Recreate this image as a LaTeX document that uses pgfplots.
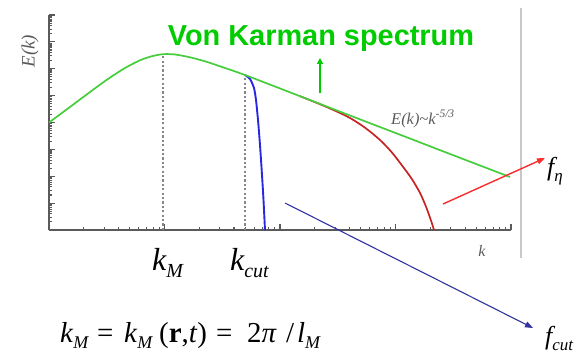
\documentclass[border=0pt]{standalone}
\usepackage{pgfplots}
\pgfplotsset{compat=1.18}
\usepackage{fontspec}
\setmainfont{Liberation Serif}
\newfontfamily\headsans{Liberation Sans}
\usetikzlibrary{arrows.meta}

\definecolor{titlegreen}{RGB}{0,204,0}
\definecolor{vkgreen}{RGB}{70,205,60}
\definecolor{cutblue}{RGB}{40,40,225}
\definecolor{dissred}{RGB}{200,35,35}
\definecolor{arrowred}{RGB}{250,45,45}
\definecolor{arrownavy}{RGB}{50,50,160}
\definecolor{axisgray}{RGB}{90,90,90}
\definecolor{guidegray}{RGB}{135,135,135}
\definecolor{sepgray}{RGB}{200,200,200}

\newcommand\sub[1]{\raisebox{-6bp}{\fontsize{18}{18}\selectfont\itshape #1}}

% von Karman model spectrum
\pgfplotstableread{
k       E
1       0.01
1.375   0.02749
1.855   0.07175
2.502   0.1873
3.374   0.4685
4.550   1.066
6.138   2.063
7.795   2.931
9.705   3.478
12.33   3.390
16.63   2.667
22.42   1.893
30.23   1.234
49.77   0.5848
149.0   0.09528
403.7   0.01820
1094    0.003516
2965    0.000673
9802    0.0000938
}\vonkarman

% spectrum truncated at the filter cut-off
\pgfplotstableread{
k       E
49.77   0.5848
54.99   0.4159
59.55   0.1923
61.97   0.06871
64.49   0.01239
67.11   0.001455
69.85   0.0001114
71.96   0.00001306
74.14   0.000001
}\cutoff

% spectrum with dissipation range
\pgfplotstableread{
k       E
149.0   0.09528
221.9   0.04797
299.4   0.02748
403.7   0.01469
544.4   0.006412
734.1   0.002234
932.6   0.0007586
1161    0.0002249
1390    0.00007709
1630    0.00002382
1837    0.000007362
2030    0.000002239
2154    0.000001
}\dissipation

\begin{document}
\begin{tikzpicture}[x=1bp,y=1bp]
\useasboundingbox (0,0) rectangle (578,352);

\begin{axis}[
  at={(49bp,122bp)}, anchor=south west,
  width=462bp, height=215bp, scale only axis,
  xmode=log, ymode=log,
  xmin=1, xmax=10000, ymin=1e-6, ymax=1e2,
  % short ticks at every 1..9 step of each decade
  xtick={1,2,3,4,5,6,7,8,9,10,20,30,40,50,60,70,80,90,
    100,200,300,400,500,600,700,800,900,1000,2000,3000,4000,5000,6000,7000,8000,9000,10000},
  ytick={1e-6,2e-6,3e-6,4e-6,5e-6,6e-6,7e-6,8e-6,9e-6,
    1e-5,2e-5,3e-5,4e-5,5e-5,6e-5,7e-5,8e-5,9e-5,
    1e-4,2e-4,3e-4,4e-4,5e-4,6e-4,7e-4,8e-4,9e-4,
    1e-3,2e-3,3e-3,4e-3,5e-3,6e-3,7e-3,8e-3,9e-3,
    0.01,0.02,0.03,0.04,0.05,0.06,0.07,0.08,0.09,
    0.1,0.2,0.3,0.4,0.5,0.6,0.7,0.8,0.9,
    1,2,3,4,5,6,7,8,9,10,20,30,40,50,60,70,80,90,100},
  xticklabels={}, yticklabels={},
  % longer ticks at the decades
  extra x ticks={1,10,100,1000,10000},
  extra y ticks={1e-6,1e-5,1e-4,1e-3,1e-2,1e-1,1,10,100},
  extra x tick labels={}, extra y tick labels={},
  extra tick style={major tick length=6.5bp,
    tick style={draw=axisgray, line width=1.1bp}},
  axis lines=left,
  axis line style={-, draw=axisgray, line width=1.4bp},
  tick align=inside,
  major tick length=3.5bp,
  tick style={draw=axisgray, line width=1.1bp},
  clip=false,
]
  % guide lines at k_M and k_cut
  \addplot[guidegray, line width=1.9bp, dash pattern=on 2.2bp off 2.2bp]
    coordinates {(9.705,1e-6) (9.705,3.478)};
  \addplot[guidegray, line width=1.9bp, dash pattern=on 2.2bp off 2.2bp]
    coordinates {(49.77,1e-6) (49.77,0.5848)};

  \addplot[dissred, line width=1.7bp, smooth] table {\dissipation};
  \addplot[cutblue, line width=1.9bp, smooth, tension=0.4] table {\cutoff};
  \addplot[vkgreen, line width=1.7bp, smooth] table {\vonkarman};

  % marker pointing up to the title
  \addplot[titlegreen, line width=1.8bp, -{Triangle[length=6bp,width=6bp]}]
    coordinates {(221.9,0.1253) (221.9,2.512)};
\end{axis}

% separator on the right
\draw[sepgray, line width=1.4bp] (521,344) -- (521,94);

% title
\node[font=\headsans\bfseries\fontsize{29}{29}\selectfont, text=titlegreen, anchor=base, inner sep=0]
  at (321,307) {Von Karman spectrum};

% axis labels
\node[font=\fontsize{19}{19}\selectfont\itshape, text=axisgray, rotate=90, inner sep=0]
  at (30,301) {E(k)};
\node[font=\fontsize{16}{16}\selectfont\itshape, text=axisgray, anchor=base, inner sep=0]
  at (482,96) {k};
\node[font=\fontsize{16.5}{16.5}\selectfont\itshape, text=axisgray, anchor=base west, inner sep=0]
  at (391,228) {E(k)\textasciitilde k\textsuperscript{-5/3}};

% wavenumber labels
\node[font=\fontsize{32}{32}\selectfont\itshape, anchor=base west, inner sep=0]
  at (152,82) {k\raisebox{-7bp}{\fontsize{20}{20}\selectfont M}};
\node[font=\fontsize{32}{32}\selectfont\itshape, anchor=base west, inner sep=0]
  at (230,82) {k\raisebox{-7bp}{\fontsize{20}{20}\selectfont cut}};

% definition of k_M
\begin{scope}[every node/.style={font=\fontsize{29}{29}\selectfont, anchor=base west, inner sep=0}]
  \node at (60,10)  {\textit{k}\sub{M}};
  \node at (97,10)  {=};
  \node at (124,10) {\textit{k}\sub{M}};
  \node at (159,10) {(\textbf{r},\textit{t})};
  \node at (216,10) {=};
  \node at (247,10) {2\textit{π}};
  \node at (286,10) {/};
  \node at (297,10) {\textit{l}\sub{M}};
\end{scope}

% filter arrows
\draw[arrowred, line width=1.4bp, -{Triangle[length=8bp,width=6bp]}] (443,148) -- (545,194);
\draw[arrownavy, line width=1.1bp, -{Triangle[length=8bp,width=6bp]}] (285,149) -- (533,24);

\node[font=\fontsize{26}{26}\selectfont\itshape, anchor=base west, inner sep=0]
  at (547,177) {f\raisebox{-6bp}{\fontsize{17}{17}\selectfont η}};
\node[font=\fontsize{26}{26}\selectfont\itshape, anchor=base west, inner sep=0]
  at (545,8) {f\raisebox{-6bp}{\fontsize{17}{17}\selectfont cut}};
\end{tikzpicture}
\end{document}
